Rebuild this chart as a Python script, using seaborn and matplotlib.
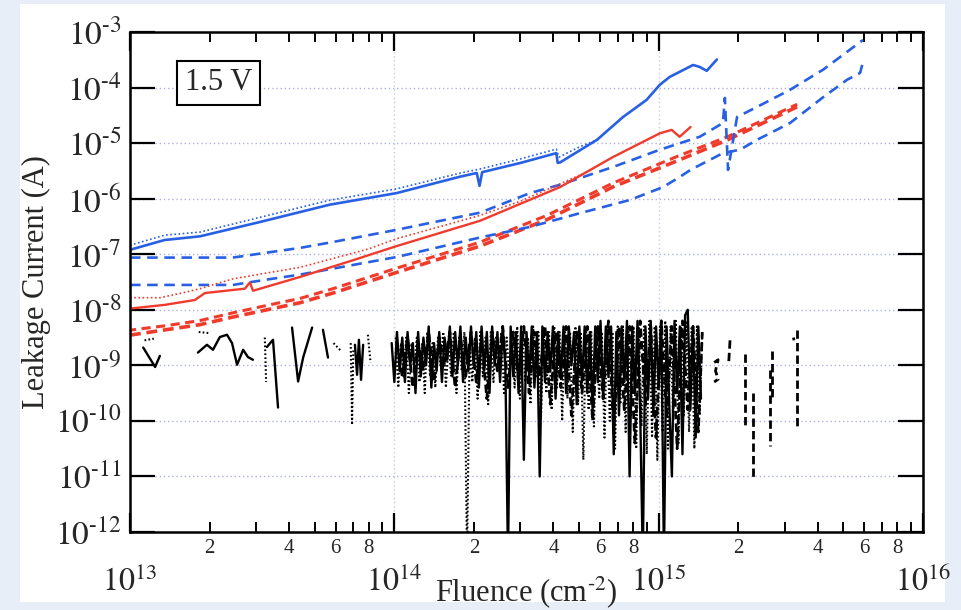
import numpy as np
import pandas as pd
import matplotlib
matplotlib.use("Agg")
import matplotlib.pyplot as plt
import seaborn as sns
from matplotlib.ticker import LogLocator, FuncFormatter, NullLocator
from matplotlib.patches import Rectangle

sns.set_style("ticks")
plt.rcParams["font.family"] = ["Liberation Serif", "DejaVu Serif"]
plt.rcParams["mathtext.fontset"] = "stix"
plt.rcParams["axes.unicode_minus"] = False

# ---------------- data (fluence cm^-2, leakage current A) ----------------
blue_solid_x = [1.0e13, 1.35e13, 1.84e13, 3.1e13, 5.7e13, 1.02e14, 1.78e14, 2.05e14, 2.1e14,
                2.15e14, 3.0e14, 4.1e14, 4.15e14, 4.24e14, 5.85e14, 7.33e14, 9.0e14, 1.01e15,
                1.1e15, 1.35e15, 1.43e15, 1.52e15, 1.66e15]
blue_solid_y = [1.2e-7, 1.8e-7, 2.1e-7, 3.8e-7, 7.8e-7, 1.26e-6, 2.5e-6, 2.9e-6, 1.7e-6,
                3.0e-6, 4.4e-6, 6.6e-6, 4.4e-6, 4.5e-6, 1.15e-5, 2.95e-5, 6.0e-5, 1.12e-4,
                1.55e-4, 2.55e-4, 2.35e-4, 2.0e-4, 3.2e-4]

blue_dot_x = [1.0e13, 1.35e13, 1.84e13, 3.1e13, 5.7e13, 1.02e14, 1.78e14, 2.1e14, 3.0e14,
              4.1e14, 4.2e14, 5.0e14, 6.0e14]
blue_dot_y = [1.45e-7, 2.2e-7, 2.5e-7, 4.6e-7, 9.4e-7, 1.5e-6, 2.9e-6, 3.4e-6, 5.2e-6,
              7.8e-6, 5.6e-6, 8.5e-6, 1.2e-5]

red_solid_x = [1.0e13, 1.36e13, 1.76e13, 1.92e13, 2.72e13, 2.84e13, 2.92e13, 4.4e13, 6.8e13,
               1.02e14, 2.11e14, 2.81e14, 4.24e14, 6.71e14, 1.01e15, 1.12e15, 1.2e15, 1.32e15]
red_solid_y = [1.05e-8, 1.23e-8, 1.5e-8, 2.0e-8, 2.4e-8, 3.1e-8, 2.2e-8, 3.9e-8, 7.5e-8,
               1.4e-7, 4.0e-7, 7.1e-7, 1.62e-6, 5.6e-6, 1.5e-5, 1.73e-5, 1.3e-5, 1.95e-5]

red_dot_x = [1.0e13, 1.3e13, 1.57e13, 1.84e13, 2.45e13, 3.3e13, 4.4e13, 8.0e13, 1.02e14,
             2.11e14, 3.0e14, 4.5e14, 5.5e14]
red_dot_y = [1.65e-8, 1.65e-8, 2.0e-8, 2.4e-8, 3.6e-8, 4.6e-8, 5.8e-8, 1.25e-7, 1.9e-7,
             5.0e-7, 9.0e-7, 2.1e-6, 3.2e-6]

blue_dash_up_x = [1.0e13, 2.45e13, 3.3e13, 4.4e13, 5.86e13, 1.02e14, 2.11e14, 3.26e14, 4.24e14,
                  6.7e14, 1.01e15, 1.43e15, 1.75e15, 1.78e15, 1.83e15, 1.98e15, 2.36e15,
                  3.14e15, 4.19e15, 5.93e15]
blue_dash_up_y = [8.7e-8, 8.7e-8, 1.07e-7, 1.3e-7, 1.66e-7, 2.75e-7, 5.6e-7, 1.26e-6, 1.78e-6,
                  3.7e-6, 7.6e-6, 1.3e-5, 2.3e-5, 6.5e-5, 3.3e-6, 2.95e-5, 4.5e-5,
                  9.1e-5, 2.1e-4, 7.2e-4]

blue_dash_lo_x = [1.0e13, 2.45e13, 3.3e13, 4.4e13, 1.02e14, 2.11e14, 3.26e14, 5.05e14, 7.8e14,
                  1.04e15, 1.2e15, 1.32e15, 1.75e15, 2.03e15, 2.36e15, 3.14e15, 4.19e15,
                  5.16e15, 5.78e15, 5.93e15]
blue_dash_lo_y = [2.8e-8, 2.8e-8, 3.5e-8, 4.3e-8, 8.9e-8, 2.0e-7, 3.1e-7, 5.5e-7, 9.5e-7,
                  1.62e-6, 2.45e-6, 3.3e-6, 6.6e-6, 7.6e-6, 1.15e-5, 2.3e-5, 6.7e-5,
                  1.38e-4, 1.83e-4, 2.9e-4]

red_dash_x = [1.0e13, 1.38e13, 1.84e13, 2.45e13, 3.3e13, 4.4e13, 5.86e13, 1.02e14, 2.11e14,
              3.78e14, 6.7e14, 1.2e15, 1.82e15, 3.34e15]
red_dash_a_y = [3.5e-9, 4.4e-9, 5.4e-9, 7.4e-9, 1.0e-8, 1.34e-8, 2.0e-8, 4.7e-8, 1.4e-7,
                4.2e-7, 1.62e-6, 5.0e-6, 1.14e-5, 4.5e-5]
red_dash_b_y = [4.3e-9, 5.2e-9, 6.4e-9, 8.8e-9, 1.2e-8, 1.6e-8, 2.4e-8, 5.6e-8, 1.65e-7,
                5.0e-7, 1.9e-6, 6.0e-6, 1.3e-5, 5.0e-5]

# black noisy traces, given as log10(fluence), log10(current); NaN separates segments
black_solid_logx = [13.05, 13.095, 13.113, np.nan,
                    13.257, 13.291, 13.314, 13.34, 13.367, 13.386, 13.405, 13.428, 13.446, 13.465, np.nan,
                    13.518, 13.541, 13.56, np.nan,
                    13.613, 13.636, 13.655, 13.689, np.nan,
                    13.73, 13.749, np.nan,
                    13.851, 13.859, 13.866, 13.874, 13.882, np.nan,
                    13.99,
                    14.00, 14.01, 14.02, 14.03, 14.04, 14.05, 14.06, 14.07, 14.08, 14.09,
                    14.10, 14.11, 14.12, 14.13, 14.14, 14.15, 14.16, 14.17, 14.18, 14.19,
                    14.20, 14.21, 14.22, 14.23, 14.24, 14.25, 14.26, 14.27, 14.28, 14.29,
                    14.30, 14.31, 14.32, 14.33, 14.34, 14.35, 14.36, 14.37, 14.38, 14.39,
                    14.40, 14.41, 14.42, 14.43, 14.44, 14.45, 14.46, 14.47, 14.48, 14.49,
                    14.50, 14.51, 14.52, 14.53, 14.54, 14.55, 14.56, 14.57, 14.58, 14.59,
                    14.60, 14.61, 14.62, 14.63, 14.64, 14.65, 14.66, 14.67, 14.68, 14.69,
                    14.70, 14.71, 14.72, 14.73, 14.74, 14.75, 14.76, 14.77, 14.78, 14.79,
                    14.80, 14.81, 14.82, 14.83, 14.84, 14.85, 14.86, 14.87, 14.88, 14.89,
                    14.90, 14.91, 14.92, 14.93, 14.94, 14.95, 14.96, 14.97, 14.98, 14.99,
                    15.00, 15.01, 15.02, 15.03, 15.04, 15.05, 15.06, 15.07, 15.08, 15.09,
                    15.10, 15.11, 15.12, 15.13, 15.14, 15.15, 15.16]
black_solid_logy = [-8.68, -9.03, -8.83, np.nan,
                    -8.77, -8.63, -8.72, -8.49, -8.45, -8.60, -8.99, -8.72, -8.85, -8.90, np.nan,
                    -8.67, -8.54, -9.76, np.nan,
                    -8.32, -9.29, -8.86, -8.32, np.nan,
                    -8.36, -8.86, np.nan,
                    -8.63, -9.17, -8.54, -9.26, -8.63, np.nan,
                    -8.6,
                    -9.3, -8.4, -9.1, -8.5, -9.3, -8.4, -9.0, -8.6, -9.5, -8.4,
                    -9.2, -8.5, -9.0, -8.3, -9.4, -8.6, -9.1, -8.4, -9.3, -8.5,
                    -8.9, -8.3, -9.2, -8.4, -9.0, -8.3, -9.3, -8.5, -9.1, -8.3,
                    -9.0, -8.4, -9.4, -8.3, -9.1, -8.4, -9.5, -8.3, -9.0, -8.4,
                    -9.3, -8.3, -9.0, -12.5, -8.3, -9.2, -8.4, -9.5, -8.3, -10.7,
                    -8.4, -9.2, -8.3, -9.4, -8.4, -11.0, -8.3, -9.3, -8.4, -9.1,
                    -8.3, -9.6, -8.4, -9.2, -8.3, -9.5, -8.3, -9.0, -8.4, -9.7,
                    -8.3, -9.3, -8.3, -9.5, -8.4, -9.8, -8.3, -9.3, -8.2, -9.6,
                    -8.3, -9.2, -8.3, -10.6, -8.4, -9.9, -8.3, -9.3, -8.2, -11.0,
                    -8.3, -9.5, -8.2, -9.8, -12.5, -8.3, -9.6, -8.2, -9.9, -8.3,
                    -9.4, -8.2, -12.5, -8.3, -9.7, -11.0, -8.2, -9.5, -8.3, -10.6,
                    -8.1, -8.0, -9.8, -8.3, -10.3, -8.3, -9.6]

black_dot_logx = [13.055, 13.09, np.nan, 13.26, 13.30, np.nan, 13.51, 13.515, np.nan,
                  13.77, 13.80, np.nan, 13.835, 13.84, 13.845, np.nan, 13.90, 13.91, np.nan,
                  14.005, 14.015, 14.025, 14.035, 14.045, 14.055, 14.065, 14.075, 14.085, 14.095,
                  14.105, 14.115, 14.125, 14.135, 14.145, 14.155, 14.165, 14.175, 14.185, 14.195,
                  14.205, 14.215, 14.225, 14.235, 14.245, 14.255, 14.265, 14.275, 14.285, 14.295,
                  14.305, 14.315, 14.325, 14.335, 14.345, 14.355, 14.365, 14.375, 14.385, 14.395,
                  14.405, 14.415, 14.425, 14.435, 14.445, 14.455, 14.465, 14.475, 14.485, 14.495,
                  14.505, 14.515, 14.525, 14.535, 14.545, 14.555, 14.565, 14.575, 14.585, 14.595,
                  14.605, 14.615, 14.625, 14.635, 14.645, 14.655, 14.665, 14.675, 14.685, 14.695,
                  14.705, 14.715, 14.725, 14.735, 14.745, 14.755, 14.765, 14.775, 14.785, 14.795,
                  14.805, 14.815, 14.825, 14.835, 14.845, 14.855, 14.865, 14.875, 14.885, 14.895,
                  14.905, 14.915, 14.925, 14.935, 14.945, 14.955, 14.965, 14.975, 14.985, 14.995,
                  15.005, 15.015, 15.025, 15.035, 15.045, 15.055, 15.065, 15.075, 15.085, 15.095,
                  15.105, 15.115, 15.125, 15.135, 15.145, 15.155, 15.165]
black_dot_logy = [-8.55, -8.52, np.nan, -8.40, -8.42, np.nan, -8.50, -9.30, np.nan,
                  -8.60, -8.75, np.nan, -8.60, -10.07, -8.70, np.nan, -8.45, -8.95, np.nan,
                  -8.5, -9.4, -8.6, -9.2, -8.5, -9.5, -8.6, -9.1, -8.5, -9.3,
                  -8.6, -9.5, -8.4, -9.2, -8.6, -9.4, -8.5, -9.0, -8.4, -9.4,
                  -8.6, -9.2, -8.4, -9.5, -8.5, -9.1, -8.4, -12.5, -8.6, -9.3,
                  -8.5, -9.6, -8.4, -9.2, -8.5, -9.7, -8.4, -9.3, -8.5, -9.0,
                  -8.4, -9.5, -8.5, -9.2, -8.4, -9.4, -8.3, -9.6, -8.4, -9.3,
                  -8.5, -9.7, -8.3, -9.2, -8.4, -9.9, -8.3, -9.5, -8.4, -9.8,
                  -8.3, -9.4, -8.4, -10.0, -8.3, -9.6, -8.4, -10.2, -8.3, -9.7,
                  -8.4, -10.7, -8.3, -9.8, -8.4, -10.1, -8.3, -9.6, -8.4, -10.3,
                  -8.3, -10.0, -8.4, -10.5, -8.3, -9.7, -8.3, -10.2, -8.4, -9.9,
                  -8.3, -10.5, -8.3, -10.1, -8.3, -10.6, -8.2, -10.3, -8.3, -10.7,
                  -8.3, -10.2, -8.2, -10.5, -8.3, -10.0, -8.2, -10.4, -8.3, -9.9,
                  -8.2, -10.2, -8.3, -10.5, -8.3, -9.9, -8.4]

black_dash_logx = [14.01, 14.03, 14.05, 14.07, 14.09, 14.11, 14.13, 14.15, 14.17, 14.19,
                   14.21, 14.23, 14.25, 14.27, 14.29, 14.31, 14.33, 14.35, 14.37, 14.39,
                   14.41, 14.43, 14.45, 14.47, 14.49, 14.51, 14.53, 14.55, 14.57, 14.59,
                   14.61, 14.63, 14.65, 14.67, 14.69, 14.71, 14.73, 14.75, 14.77, 14.79,
                   14.81, 14.83, 14.85, 14.87, 14.89, 14.91, 14.93, 14.95, 14.97, 14.99,
                   15.01, 15.03, 15.05, 15.07, 15.09, 15.11, 15.13, 15.15, 15.165, np.nan,
                   15.21, 15.225, 15.215, 15.225, 15.21, np.nan, 15.27, 15.265, np.nan,
                   15.327, 15.327, np.nan, 15.357, 15.357, np.nan, 15.42, 15.42, np.nan,
                   15.43, 15.43, np.nan, 15.51, 15.512, np.nan, 15.524, 15.524]
black_dash_logy = [-8.6, -9.2, -8.5, -9.4, -8.6, -9.1, -8.4, -9.3, -8.5, -9.0,
                   -8.4, -9.4, -8.5, -9.2, -8.4, -9.3, -8.5, -9.6, -8.4, -9.1,
                   -8.3, -9.4, -8.4, -9.3, -8.3, -9.5, -8.4, -9.2, -8.3, -9.7,
                   -8.4, -9.4, -8.3, -9.9, -8.4, -9.5, -8.3, -10.0, -8.3, -9.6,
                   -8.2, -10.2, -8.3, -9.8, -8.3, -10.4, -8.2, -9.7, -8.3, -10.3,
                   -8.2, -9.9, -8.3, -10.5, -8.2, -9.8, -8.3, -10.2, -8.4, np.nan,
                   -8.95, -8.9, -9.1, -9.25, -9.3, np.nan, -8.55, -8.95, np.nan,
                   -8.8, -10.15, np.nan, -9.5, -11.02, np.nan, -9.08, -10.45, np.nan,
                   -8.75, -9.6, np.nan, -8.5, -8.55, np.nan, -8.36, -10.1]

x_minor_labels = [2, 4, 6, 8]
box_label = "1.5 V"

BLUE = "#2860e4"
RED = "#ef3b2c"


def segments_frame(logx, logy):
    lx = np.asarray(logx, dtype=float)
    ly = np.asarray(logy, dtype=float)
    seg = np.cumsum(np.isnan(lx))
    keep = ~np.isnan(lx)
    return pd.DataFrame({"x": 10.0 ** lx[keep], "y": 10.0 ** ly[keep], "seg": seg[keep]})


# ---------------- figure ----------------
fig = plt.figure(figsize=(9.61, 6.10), dpi=100)
fig.patch.set_facecolor("#e8eef8")
fig.patches.append(Rectangle((20 / 961, 8 / 610), 925 / 961, 598 / 610,
                             transform=fig.transFigure, facecolor="white",
                             edgecolor="none", zorder=-10))
ax = fig.add_axes([130 / 961, 78 / 610, 793 / 961, 500 / 610])
ax.set_zorder(5)
ax.set_xscale("log")
ax.set_yscale("log")
ax.set_facecolor("white")

# grid
ax.set_axisbelow(True)
ax.grid(True, which="major", axis="y", ls=(0, (1, 2)), color="#aeb0ea", lw=1.0)
ax.grid(True, which="major", axis="x", ls=(0, (1, 2)), color="#c9cbe0", lw=1.0)

# black noise traces
df = segments_frame(black_solid_logx, black_solid_logy)
sns.lineplot(data=df, x="x", y="y", units="seg", estimator=None, sort=False,
             color="black", lw=1.7, ax=ax, legend=False)
n0 = len(ax.lines)
df = segments_frame(black_dot_logx, black_dot_logy)
sns.lineplot(data=df, x="x", y="y", units="seg", estimator=None, sort=False,
             color="black", lw=1.5, ax=ax, legend=False)
for ln in ax.lines[n0:]:
    ln.set_linestyle((0, (0.8, 1.1)))
n0 = len(ax.lines)
df = segments_frame(black_dash_logx, black_dash_logy)
sns.lineplot(data=df, x="x", y="y", units="seg", estimator=None, sort=False,
             color="black", lw=2.0, ax=ax, legend=False)
for ln in ax.lines[n0:]:
    ln.set_linestyle((0, (3, 1.5)))


# coloured traces
def draw(x, y, color, lw, ls):
    k = len(ax.lines)
    sns.lineplot(x=x, y=y, estimator=None, sort=False, color=color, lw=lw, ax=ax)
    for ln in ax.lines[k:]:
        ln.set_linestyle(ls)


draw(red_dash_x, red_dash_a_y, RED, 2.6, (0, (3, 1.6)))
draw(red_dash_x, red_dash_b_y, RED, 2.2, (1, (3, 1.8)))
draw(blue_dash_lo_x, blue_dash_lo_y, BLUE, 1.9, (0, (4, 2.5)))
draw(blue_dash_up_x, blue_dash_up_y, BLUE, 1.9, (0, (4, 2.5)))
draw(red_dot_x, red_dot_y, RED, 1.2, (0, (1, 1.5)))
draw(red_solid_x, red_solid_y, RED, 1.7, "-")
draw(blue_dot_x, blue_dot_y, BLUE, 1.2, (0, (1, 1.5)))
draw(blue_solid_x, blue_solid_y, BLUE, 1.9, "-")

ax.set_xlim(1e13, 1e16)
ax.set_ylim(1e-12, 1e-3)

# ticks
ax.xaxis.set_major_locator(LogLocator(base=10, numticks=10))
ax.xaxis.set_minor_locator(LogLocator(base=10, subs=np.arange(2, 10), numticks=40))


def minor_fmt(v, pos):
    m = int(round(v / 10 ** np.floor(np.log10(v) + 1e-9)))
    return str(m) if m in x_minor_labels else ""


def pow_fmt(v, pos):
    e = int(round(np.log10(v)))
    if e < 0:
        return r"$10^{\text{-}%d}$" % (-e)
    return r"$10^{%d}$" % e


ax.xaxis.set_minor_formatter(FuncFormatter(minor_fmt))
ax.xaxis.set_major_formatter(FuncFormatter(pow_fmt))
ax.yaxis.set_major_locator(LogLocator(base=10, numticks=20))
ax.yaxis.set_major_formatter(FuncFormatter(pow_fmt))
ax.yaxis.set_minor_locator(NullLocator())

ax.tick_params(axis="both", which="both", direction="in", top=True, right=True,
               color="black")
ax.tick_params(axis="y", which="major", length=18, width=1.6, labelsize=24, pad=6)
ax.tick_params(axis="x", which="major", length=14, width=1.6, labelsize=23, pad=25)
ax.tick_params(axis="x", which="minor", length=7, width=1.4, labelsize=15, pad=5)

for sp in ax.spines.values():
    sp.set_linewidth(1.8)
    sp.set_color("black")

ax.set_xlabel(r"Fluence (cm$^{\text{-}2}$)", fontsize=22)
ax.xaxis.set_label_coords(0.5, -0.085)
ax.set_ylabel("Leakage Current (A)", fontsize=22)
ax.yaxis.set_label_coords(-0.1, 0.5)

ax.text(0.112, 0.898, box_label, transform=ax.transAxes, fontsize=22,
        ha="center", va="center",
        bbox=dict(boxstyle="square,pad=0.25", facecolor="white", edgecolor="black", lw=1.5))

fig.savefig("out.png", dpi=100, facecolor=fig.get_facecolor())
